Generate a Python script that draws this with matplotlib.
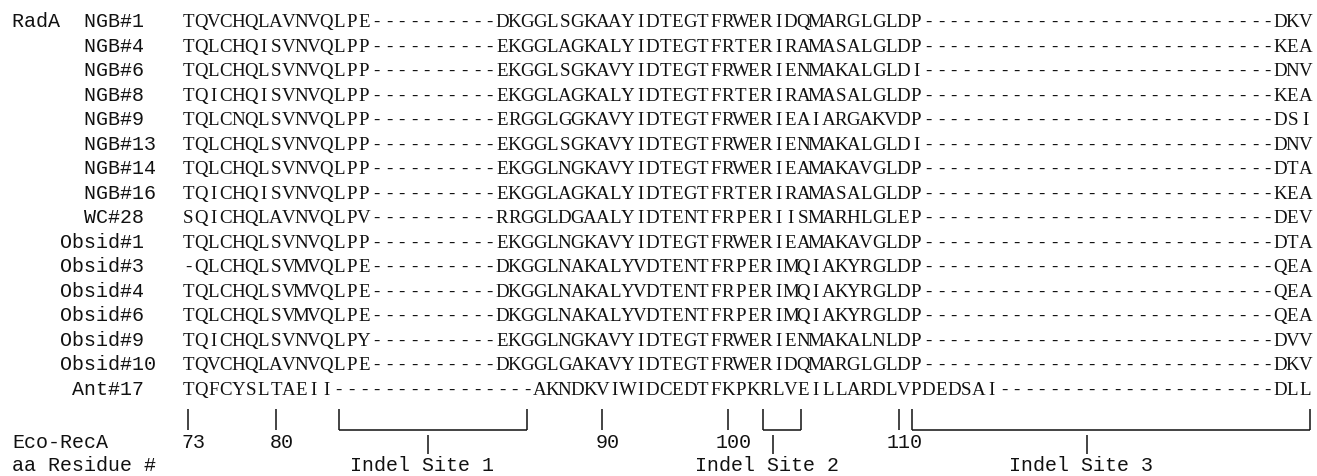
import matplotlib.pyplot as plt

# Row labels, typed with leading spaces like the original text figure
row_labels = [
    "RadA  NGB#1", "      NGB#4", "      NGB#6", "      NGB#8",
    "      NGB#9", "      NGB#13", "      NGB#14", "      NGB#16",
    "      WC#28", "    Obsid#1", "    Obsid#3", "    Obsid#4",
    "    Obsid#6", "    Obsid#9", "    Obsid#10", "     Ant#17",
]

# Aligned sequences (90 columns each)
alignment = [
    "TQVCHQLAVNVQLPE" + "-" * 10 + "DKGGLSGKAAYIDTEGTFRWERIDQMARGLGLDP" + "-" * 28 + "DKV",
    "TQLCHQISVNVQLPP" + "-" * 10 + "EKGGLAGKALYIDTEGTFRTERIRAMASALGLDP" + "-" * 28 + "KEA",
    "TQLCHQLSVNVQLPP" + "-" * 10 + "EKGGLSGKAVYIDTEGTFRWERIENMAKALGLDI" + "-" * 28 + "DNV",
    "TQICHQISVNVQLPP" + "-" * 10 + "EKGGLAGKALYIDTEGTFRTERIRAMASALGLDP" + "-" * 28 + "KEA",
    "TQLCNQLSVNVQLPP" + "-" * 10 + "ERGGLGGKAVYIDTEGTFRWERIEAIARGAKVDP" + "-" * 28 + "DSI",
    "TQLCHQLSVNVQLPP" + "-" * 10 + "EKGGLSGKAVYIDTEGTFRWERIENMAKALGLDI" + "-" * 28 + "DNV",
    "TQLCHQLSVNVQLPP" + "-" * 10 + "EKGGLNGKAVYIDTEGTFRWERIEAMAKAVGLDP" + "-" * 28 + "DTA",
    "TQICHQISVNVQLPP" + "-" * 10 + "EKGGLAGKALYIDTEGTFRTERIRAMASALGLDP" + "-" * 28 + "KEA",
    "SQICHQLAVNVQLPV" + "-" * 10 + "RRGGLDGAALYIDTENTFRPERIISMARHLGLEP" + "-" * 28 + "DEV",
    "TQLCHQLSVNVQLPP" + "-" * 10 + "EKGGLNGKAVYIDTEGTFRWERIEAMAKAVGLDP" + "-" * 28 + "DTA",
    "-QLCHQLSVMVQLPE" + "-" * 10 + "DKGGLNAKALYVDTENTFRPERIMQIAKYRGLDP" + "-" * 28 + "QEA",
    "TQLCHQLSVMVQLPE" + "-" * 10 + "DKGGLNAKALYVDTENTFRPERIMQIAKYRGLDP" + "-" * 28 + "QEA",
    "TQLCHQLSVMVQLPE" + "-" * 10 + "DKGGLNAKALYVDTENTFRPERIMQIAKYRGLDP" + "-" * 28 + "QEA",
    "TQICHQLSVNVQLPY" + "-" * 10 + "EKGGLNGKAVYIDTEGTFRWERIENMAKALNLDP" + "-" * 28 + "DVV",
    "TQVCHQLAVNVQLPE" + "-" * 10 + "DKGGLGAKAVYIDTEGTFRWERIDQMARGLGLDP" + "-" * 28 + "DKV",
    "TQFCYSLTAEII" + "-" * 16 + "AKNDKVIWIDCEDTFKPKRLVEILLARDLVPDEDSAI" + "-" * 22 + "DLL",
]

# E. coli RecA residue numbers and the alignment column they sit under
residue_numbers = [73, 80, 90, 100, 110]
residue_cols = [0, 7, 33, 43, 56.6]

# Indel sites: bracket start/end columns and the column of the pointer tick
indel_names = ["Indel Site 1", "Indel Site 2", "Indel Site 3"]
indel_start = [12, 45.8, 57.7]
indel_end = [27, 48.8, 89.4]
indel_mid = [19.1, 46.6, 71.6]

mono = "Liberation Mono"
serif = "Liberation Serif"
ink = "#111111"

fig = plt.figure(figsize=(13.17, 4.77), dpi=100)
ax = fig.add_axes([0, 0, 1, 1])
# x in alignment columns, y in rows
ax.set_xlim(-15.0, 89.94)
ax.set_ylim(18.65, -0.816)
ax.axis("off")

base = 0.29  # baseline offset below row centre

for r, (lab, seq) in enumerate(zip(row_labels, alignment)):
    ax.text(-14.05, r + base, lab, family=mono, fontsize=14.4,
            ha="left", va="baseline", color=ink)
    for c, ch in enumerate(seq):
        ax.text(c, r + base, ch, family=serif, fontsize=13.6,
                ha="center", va="baseline", color=ink)

n = len(alignment)
bar_top, bar_bot = n - 0.08, n + 0.78

# numbered residue ticks
ax.vlines(residue_cols, bar_top, bar_bot, color=ink, lw=1.1)
for num, col in zip(residue_numbers, residue_cols):
    ax.text(col + 0.45, n + 1.47, str(num), family=mono, fontsize=14.4,
            ha="center", va="baseline", color=ink)

# indel brackets
ax.vlines(indel_start, bar_top, bar_bot, color=ink, lw=1.1)
ax.vlines(indel_end, bar_top, bar_bot, color=ink, lw=1.1)
ax.hlines([bar_bot] * len(indel_start), indel_start, indel_end, color=ink, lw=1.1)
ax.vlines(indel_mid, n + 0.98, n + 1.75, color=ink, lw=1.1)
for name, col in zip(indel_names, indel_mid):
    ax.text(col - 0.48, n + 2.4, name, family=mono, fontsize=14.4,
            ha="center", va="baseline", color=ink)

ax.text(-14.05, n + 1.47, "Eco-RecA", family=mono, fontsize=14.4,
        ha="left", va="baseline", color=ink)
ax.text(-14.05, n + 2.4, "aa Residue #", family=mono, fontsize=14.4,
        ha="left", va="baseline", color=ink)

fig.savefig("out.png", dpi=100, facecolor="white")
